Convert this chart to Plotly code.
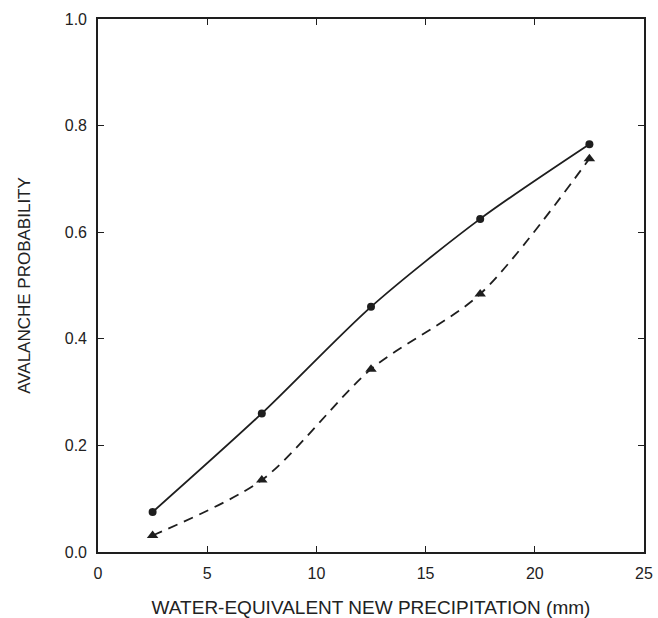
import plotly.graph_objects as go

precip_mm = [2.5, 7.5, 12.5, 17.5, 22.5]
prob_circle = [0.075, 0.26, 0.46, 0.625, 0.765]
prob_triangle = [0.031, 0.135, 0.343, 0.484, 0.738]

x_ticks = [0, 5, 10, 15, 20, 25]
y_ticks = [0.0, 0.2, 0.4, 0.6, 0.8, 1.0]
y_tick_labels = ["0.0", "0.2", "0.4", "0.6", "0.8", "1.0"]

FONT = "Liberation Sans, Arial, sans-serif"
INK = "#1e1e1e"

fig = go.Figure()
fig.add_trace(go.Scatter(
    x=precip_mm, y=prob_circle, mode="lines+markers",
    line=dict(color=INK, width=1.8, shape="spline", smoothing=0.8),
    marker=dict(symbol="circle", size=8, color=INK),
    showlegend=False,
))
fig.add_trace(go.Scatter(
    x=precip_mm, y=prob_triangle, mode="lines+markers",
    line=dict(color=INK, width=1.8, shape="spline", smoothing=0.8, dash="10px,7px"),
    marker=dict(symbol="triangle-up", size=10, color=INK),
    showlegend=False,
))

axis_common = dict(
    showline=True, linecolor=INK, linewidth=1.6, mirror="ticks",
    ticks="inside", ticklen=6, tickwidth=1.3, tickcolor=INK,
    showgrid=False, zeroline=False, automargin=False,
    tickfont=dict(family=FONT, size=16, color="#222"),
)

fig.update_xaxes(
    range=[0, 25], tickvals=x_ticks, ticktext=[str(v) for v in x_ticks],
    title=dict(text="WATER-EQUIVALENT NEW PRECIPITATION (mm)",
               font=dict(family=FONT, size=19, color="#222"), standoff=22),
    ticklabelstandoff=6,
    **axis_common,
)
fig.update_yaxes(
    range=[0, 1.0], tickvals=y_ticks, ticktext=y_tick_labels,
    title=dict(text="AVALANCHE PROBABILITY",
               font=dict(family=FONT, size=17, color="#222"), standoff=30),
    ticklabelstandoff=6,
    **axis_common,
)

fig.update_layout(
    width=658, height=618,
    margin=dict(l=98, r=14, t=19, b=66),
    paper_bgcolor="white", plot_bgcolor="white",
)

fig.write_html("out.html")
